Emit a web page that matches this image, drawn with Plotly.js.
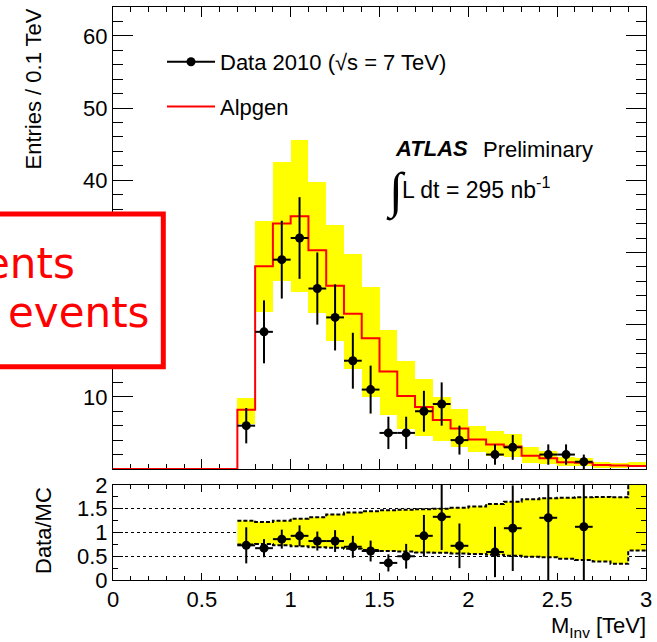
<!DOCTYPE html>
<html>
<head>
<meta charset="utf-8">
<script src="https://cdn.plot.ly/plotly-3.0.1.min.js"></script>
<style>
html,body{margin:0;padding:0;background:#fff;}
#chart{width:657px;height:642px;}
</style>
</head>
<body>
<div id="chart"></div>
<script>
// ---------- data ----------
// bin edges of the Alpgen histogram, 0.1 TeV wide
const mcEdges = [0,0.1,0.2,0.3,0.4,0.5,0.6,0.7,0.8,0.9,1.0,1.1,1.2,1.3,1.4,1.5,1.6,1.7,1.8,1.9,2.0,2.1,2.2,2.3,2.4,2.5,2.6,2.7,2.8,2.9,3.0];
// Alpgen entries per bin (one per bin, 30 bins)
const alpgen = [0,0,0,0,0,0,0,8.2,28.1,34.0,35.0,30.3,25.4,21.5,18.1,13.5,10.1,8.6,6.8,5.6,4.1,3.4,3.1,1.85,1.5,0.95,0.88,0.55,0.47,0.43];

// MC uncertainty band (yellow) for bins 0.7 ... 2.9
const bandCenters = [0.75,0.85,0.95,1.05,1.15,1.25,1.35,1.45,1.55,1.65,1.75,1.85,1.95,2.05,2.15,2.25,2.35,2.45,2.55,2.65,2.75,2.85,2.95];
const bandHigh = [9.9,34.3,42.5,45.6,39.8,33.8,29.8,25.2,19.3,14.9,12.4,10.0,8.25,6.0,5.2,4.9,3.1,2.5,1.65,1.5,0.95,0.8,1.0];
const bandLow  = [6.2,21.8,26.1,24.5,21.6,17.7,13.8,10.0,7.5,5.5,4.6,3.9,3.0,2.3,1.8,1.6,0.9,0.7,0.4,0.35,0.2,0.15,0.27];

// Data 2010
const dataX   = [0.75,0.85,0.95,1.05,1.15,1.25,1.35,1.45,1.55,1.65,1.75,1.85,1.95,2.15,2.25,2.45,2.55,2.65];
const dataY   = [6,19,29,32,25,21,15,11,5,5,8,9,4,2,3,2,2,1];
const dataErr = [2.45,4.36,5.39,5.66,5.0,4.58,3.87,3.32,2.24,2.24,2.83,3.0,2.0,1.41,1.73,1.41,1.41,1.0];

// Ratio panel: Data/MC
const ratioX   = [0.75,0.85,0.95,1.05,1.15,1.25,1.35,1.45,1.55,1.65,1.75,1.85,1.95,2.15,2.25,2.45,2.65];
const ratioY   = [0.73,0.67,0.86,0.93,0.82,0.82,0.70,0.61,0.36,0.50,0.93,1.33,0.72,0.59,1.09,1.31,1.12];
const ratioErr = [0.38,0.19,0.20,0.22,0.20,0.23,0.23,0.22,0.18,0.26,0.44,0.70,0.47,0.53,0.90,1.40,1.20];

// Ratio-panel MC uncertainty band, bin edges 0.7 ... 3.0
const ratioBandEdges = [0.7,0.8,0.9,1.0,1.1,1.2,1.3,1.4,1.5,1.6,1.7,1.8,1.9,2.0,2.1,2.2,2.3,2.4,2.5,2.6,2.7,2.8,2.9,3.0];
const ratioBandHigh = [1.25,1.22,1.25,1.29,1.32,1.38,1.42,1.45,1.47,1.48,1.49,1.50,1.52,1.55,1.60,1.65,1.70,1.72,1.73,1.74,1.75,1.74,2.2];
const ratioBandLow  = [0.75,0.76,0.73,0.71,0.69,0.68,0.66,0.63,0.61,0.60,0.58,0.575,0.56,0.55,0.53,0.51,0.49,0.48,0.45,0.42,0.39,0.34,0.62];

// ---------- styling ----------
const FONT = 'Liberation Sans, Arial, Helvetica, sans-serif';
const YELLOW = '#ffff00';

// step arrays: repeat last value so the 'hv' step closes at the last edge
const alpgenStep = alpgen.concat([alpgen[alpgen.length-1]]);
const rbHighStep = ratioBandHigh.concat([ratioBandHigh[ratioBandHigh.length-1]]);
const rbLowStep  = ratioBandLow.concat([ratioBandLow[ratioBandLow.length-1]]);

const traces = [
  { // yellow MC band, main panel
    type:'bar', x: bandCenters, base: bandLow,
    y: bandHigh.map((h,i)=>h-bandLow[i]),
    width: 0.1, marker:{color:YELLOW, line:{width:0}},
    xaxis:'x', yaxis:'y', showlegend:false, hoverinfo:'skip'
  },
  { // Alpgen
    type:'scatter', mode:'lines', x: mcEdges, y: alpgenStep,
    line:{shape:'hv', color:'#ff0000', width:2},
    name:'Alpgen', legendgroup:'b', legendrank:2,
    xaxis:'x', yaxis:'y', cliponaxis:false
  },
  { // data points
    type:'scatter', mode:'markers', x: dataX, y: dataY,
    marker:{color:'#000', size:9},
    error_y:{type:'data', array:dataErr, visible:true, color:'#000', thickness:2, width:0},
    error_x:{type:'constant', value:0.05, visible:true, color:'#000', thickness:2, width:0},
    showlegend:false, xaxis:'x', yaxis:'y'
  },
  { // legend entry for data (line + marker symbol)
    type:'scatter', mode:'lines+markers', x:[null], y:[null],
    marker:{color:'#000', size:9}, line:{color:'#000', width:2},
    name:'Data 2010 (√s = 7 TeV)', legendgroup:'a', legendrank:1,
    xaxis:'x', yaxis:'y'
  },
  { // ratio band lower edge
    type:'scatter', mode:'lines', x: ratioBandEdges, y: rbLowStep,
    line:{shape:'hv', color:'#000', width:2, dash:'4px,2px'},
    xaxis:'x2', yaxis:'y2', showlegend:false, hoverinfo:'skip'
  },
  { // ratio band upper edge + fill
    type:'scatter', mode:'lines', x: ratioBandEdges, y: rbHighStep,
    line:{shape:'hv', color:'#000', width:2, dash:'4px,2px'},
    fill:'tonexty', fillcolor:YELLOW,
    xaxis:'x2', yaxis:'y2', showlegend:false, hoverinfo:'skip'
  },
  { // ratio points
    type:'scatter', mode:'markers', x: ratioX, y: ratioY,
    marker:{color:'#000', size:9},
    error_y:{type:'data', array:ratioErr, visible:true, color:'#000', thickness:2, width:0},
    error_x:{type:'constant', value:0.05, visible:true, color:'#000', thickness:2, width:0},
    showlegend:false, xaxis:'x2', yaxis:'y2'
  }
];

const L = 113, R = 11, T = 7, B = 62, W = 657, H = 642;
const pw = W - L - R, ph = H - T - B;
const px = v => (v - L) / pw;             // pixel x -> paper x
const py = v => (H - B - v) / ph;         // pixel y -> paper y

const axBase = {
  showline:true, linecolor:'#000', linewidth:1, mirror:'allticks',
  ticks:'inside', tickcolor:'#000', tickwidth:1,
  showgrid:false, zeroline:false,
  tickfont:{family:FONT, size:22, color:'#000'}
};

const layout = {
  width:W, height:H,
  margin:{l:L, r:R, t:T, b:B, pad:0},
  paper_bgcolor:'#fff', plot_bgcolor:'#fff',
  font:{family:FONT, size:22, color:'#000'},
  showlegend:true,
  legend:{x:px(162), y:py(41), xanchor:'left', yanchor:'top',
          font:{family:FONT, size:22, color:'#000'},
          bgcolor:'rgba(0,0,0,0)', borderwidth:0,
          tracegroupgap:13, traceorder:'grouped', itemwidth:48},
  bargap:0,
  xaxis: Object.assign({}, axBase, {
    domain:[0,1], anchor:'y', range:[0,3], tick0:0, dtick:0.5, ticklen:10,
    showticklabels:false, layer:'below traces',
    minor:{ticks:'inside', tick0:0, dtick:0.1, ticklen:5, tickcolor:'#000', tickwidth:1}
  }),
  yaxis: Object.assign({}, axBase, {
    domain:[py(469),1], anchor:'x', range:[0,64],
    tickmode:'array', tickvals:[10,20,30,40,50,60], ticklen:20,
    minor:{ticks:'inside', tickmode:'linear', tick0:0, dtick:2, ticklen:10, tickcolor:'#000', tickwidth:1}
  }),
  xaxis2: Object.assign({}, axBase, {
    domain:[0,1], anchor:'y2', range:[0,3], tick0:0, dtick:0.5, ticklen:7,
    minor:{ticks:'inside', tick0:0, dtick:0.1, ticklen:4, tickcolor:'#000', tickwidth:1}
  }),
  yaxis2: Object.assign({}, axBase, {
    domain:[0,py(485)], anchor:'x2', range:[0,2],
    tickmode:'array', tickvals:[0,0.5,1,1.5,2], ticktext:['0','0.5','1','1.5','2'], ticklen:10,
    showgrid:true, gridcolor:'#000', gridwidth:1, griddash:'dot',
    minor:{ticks:'inside', tickmode:'linear', tick0:0, dtick:0.25, ticklen:5, tickcolor:'#000', tickwidth:1}
  }),
  shapes:[
    { // red highlight box partly outside the left edge
      type:'rect', xref:'paper', yref:'paper', layer:'above',
      x0:px(-30), x1:px(163.3), y0:py(366.8), y1:py(214),
      line:{color:'#ff0000', width:5}, fillcolor:'#ffffff'
    }
  ],
  annotations:[
    {text:'Entries / 0.1 TeV', xref:'paper', yref:'paper', x:px(33), y:py(88.5),
     xanchor:'center', yanchor:'middle', textangle:-90, showarrow:false,
     font:{family:FONT, size:22, color:'#000'}},
    {text:'Data/MC', xref:'paper', yref:'paper', x:px(43.5), y:py(530.5),
     xanchor:'center', yanchor:'middle', textangle:-90, showarrow:false,
     font:{family:FONT, size:22, color:'#000'}},
    {text:'M<sub>Inv</sub> [TeV]', xref:'paper', yref:'paper', x:px(648), y:py(627),
     xanchor:'right', yanchor:'middle', showarrow:false,
     font:{family:FONT, size:22, color:'#000'}},
    {text:'<b><i>ATLAS</i></b>', xref:'paper', yref:'paper', x:px(393), y:py(148),
     xanchor:'left', yanchor:'middle', showarrow:false,
     font:{family:FONT, size:22, color:'#000'}},
    {text:'Preliminary', xref:'paper', yref:'paper', x:px(481), y:py(150),
     xanchor:'left', yanchor:'middle', showarrow:false,
     font:{family:FONT, size:22, color:'#000'}},
    {text:'∫', xref:'paper', yref:'paper', x:px(396), y:py(191.5),
     xanchor:'center', yanchor:'middle', showarrow:false,
     font:{family:'Liberation Serif, DejaVu Serif, serif', size:50, color:'#000'}},
    {text:'L dt = 295 nb<sup>-1</sup>', xref:'paper', yref:'paper', x:px(400), y:py(188),
     xanchor:'left', yanchor:'middle', showarrow:false,
     font:{family:FONT, size:23, color:'#000'}},
    {text:'ents', xref:'paper', yref:'paper', x:px(77), y:py(263),
     xanchor:'right', yanchor:'middle', showarrow:false,
     font:{family:'DejaVu Sans, sans-serif', size:42, color:'#ff0000'}},
    {text:'events', xref:'paper', yref:'paper', x:px(6), y:py(312),
     xanchor:'left', yanchor:'middle', showarrow:false,
     font:{family:'DejaVu Sans, sans-serif', size:42, color:'#ff0000'}}
  ]
};

Plotly.newPlot('chart', traces, layout, {staticPlot:true, displayModeBar:false});
</script>
</body>
</html>
